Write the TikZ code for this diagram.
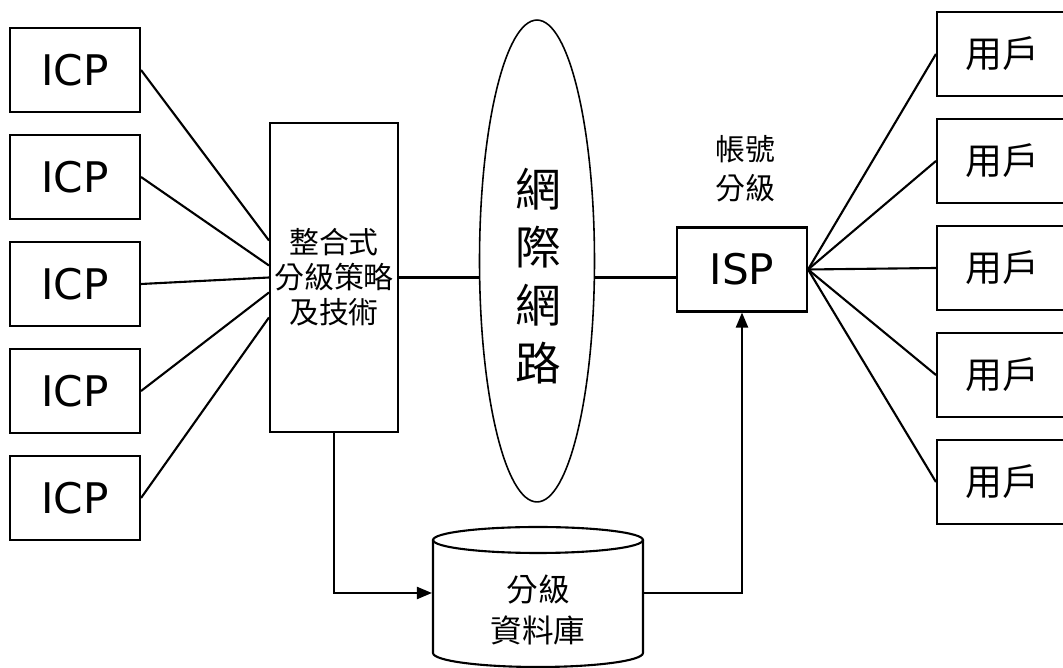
\documentclass[tikz,border=0pt]{standalone}
\usepackage{fontspec}
\setmainfont{DejaVu Sans}
\newfontfamily\cjk{Noto Sans CJK TC}
\usetikzlibrary{shapes.geometric,arrows.meta,calc}
\tikzset{
	box/.style={draw,minimum width=2.6cm,minimum height=1.68cm,inner sep=1pt,font=\fontsize{24}{30}\selectfont},
	tip/.style={-{Triangle[length=.3cm,width=.24cm]}}
}
\begin{document}
\begin{tikzpicture}[x=.02cm,y=-.02cm,line width=1.2pt]
		\useasboundingbox (0,0) rectangle (1063,668);
		\foreach \ii in {1,...,5}
		{
			\node[box] (icp\ii) at (75,{70+107*(\ii-1)}) {ICP};
			\node[box,font=\cjk\fontsize{21}{25}\selectfont] (user\ii) at (1002,{54+107*(\ii-1)}) {用戶};
		}
		\node[draw,minimum width=2.56cm,minimum height=6.18cm,inner sep=1pt,align=center,
			font=\cjk\fontsize{17}{20}\selectfont] (mid) at (334,277.5) {整合式\\分級策略\\及技術};
		\node[draw,ellipse,line width=.9pt,minimum width=2.3cm,minimum height=9.64cm] (net) at (537,261) {};
		\node[align=center,font=\cjk\fontsize{26}{33}\selectfont] (nettxt) at (538,276) {網\\際\\網\\路};
		\node[box] (isp) at (742,269.5) {ISP};
		\node[align=center,font=\cjk\fontsize{17}{22}\selectfont] (acct) at (745,169) {帳號\\分級};
		\node[align=center,minimum width=4.2cm,font=\cjk\fontsize{18}{23}\selectfont] (db) at (538,610) {分級\\資料庫};
		\draw (433,540) -- (433,653) arc[start angle=180,end angle=360,x radius=2.1cm,y radius=.28cm] -- (643,540);
		\draw (538,540) ellipse[x radius=2.1cm,y radius=.26cm];
		\foreach \ii/\dd in {1/-37,2/-12,3/0,4/15,5/40}
		{
			\draw (icp\ii.east) -- ($(mid.west)+(0,\dd)$);
			\draw (isp.east) -- (user\ii.west);
		}
		\draw (mid.east) -- (mid.east -| net.west);
		\draw (mid.east -| net.east) -- (mid.east -| isp.west);
		\draw[tip] (mid.south) |- ($(db.west)+(0,-17)$);
		\draw[tip] ($(db.east)+(0,-17)$) -| (isp.south);
	\end{tikzpicture}
\end{document}
